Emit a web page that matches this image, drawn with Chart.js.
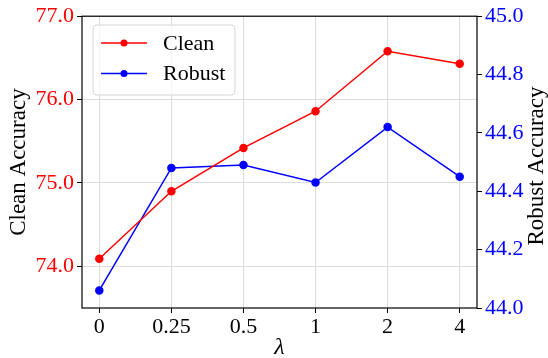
<!DOCTYPE html>
<html lang="en">
<head>
    <meta charset="UTF-8">
    <title>Clean vs Robust Accuracy</title>
    <script src="https://cdn.jsdelivr.net/npm/chart.js"></script>
    <style>
        html, body { margin: 0; padding: 0; background: #ffffff; }
        .wrap { width: 548px; height: 358px; }
    </style>
</head>
<body>
    <div class="wrap">
        <canvas id="acc-chart" width="548" height="358"></canvas>
    </div>
    <script>
        // valores
        const lambdas = ['0', '0.25', '0.5', '1', '2', '4'];
        const cleanAcc = [74.09, 74.90, 75.42, 75.86, 76.58, 76.43];
        const robustAcc = [44.06, 44.48, 44.49, 44.43, 44.62, 44.45];
        const cleanTicks = [74, 75, 76, 77];
        const robustTicks = [44.0, 44.2, 44.4, 44.6, 44.8, 45.0];

        const FONT = "'Liberation Serif', 'DejaVu Serif', serif";

        // borda, legenda e titulo do eixo direito desenhados a mao
        const framePlugin = {
            id: 'frame',
            afterDatasetsDraw(chart) {
                const c = chart.ctx;
                const a = chart.chartArea;
                c.save();
                c.strokeStyle = '#000000';
                c.lineWidth = 1.2;
                c.strokeRect(a.left, a.top, a.right - a.left, a.bottom - a.top);

                // titulo do eixo direito (lido de baixo para cima, como no original)
                c.save();
                c.translate(537, 166);
                c.rotate(-Math.PI / 2);
                c.fillStyle = '#000000';
                c.font = '23px ' + FONT;
                c.textAlign = 'center';
                c.textBaseline = 'middle';
                c.fillText('Robust Accuracy', 0, 0);
                c.restore();

                // legenda
                const x0 = 93, y0 = 25, w = 142, h = 70, r = 4;
                c.beginPath();
                c.moveTo(x0 + r, y0);
                c.arcTo(x0 + w, y0, x0 + w, y0 + h, r);
                c.arcTo(x0 + w, y0 + h, x0, y0 + h, r);
                c.arcTo(x0, y0 + h, x0, y0, r);
                c.arcTo(x0, y0, x0 + w, y0, r);
                c.closePath();
                c.fillStyle = 'rgba(255,255,255,0.8)';
                c.fill();
                c.strokeStyle = '#d6d6d6';
                c.lineWidth = 1;
                c.stroke();

                chart.data.datasets.forEach((ds, i) => {
                    const y = 43 + i * 30.5;
                    c.strokeStyle = ds.borderColor;
                    c.lineWidth = 1.5;
                    c.beginPath();
                    c.moveTo(101, y);
                    c.lineTo(147, y);
                    c.stroke();
                    c.fillStyle = ds.borderColor;
                    c.beginPath();
                    c.arc(124, y, 3.5, 0, Math.PI * 2);
                    c.fill();
                    c.fillStyle = '#000000';
                    c.font = '22px ' + FONT;
                    c.textBaseline = 'middle';
                    c.fillText(ds.label, 163, y + 1);
                });
                c.restore();
            }
        };

        const ctx = document.getElementById('acc-chart').getContext('2d');
        const accChart = new Chart(ctx, {
            type: 'line',
            data: {
                datasets: [{
                    label: 'Clean',
                    data: cleanAcc.map((v, i) => ({ x: i, y: v })),
                    borderColor: '#ff0000',
                    backgroundColor: '#ff0000',
                    borderWidth: 1.5,
                    pointRadius: 3.5,
                    pointHoverRadius: 3.5,
                    yAxisID: 'y'
                }, {
                    label: 'Robust',
                    data: robustAcc.map((v, i) => ({ x: i, y: v })),
                    borderColor: '#0000ff',
                    backgroundColor: '#0000ff',
                    borderWidth: 1.5,
                    pointRadius: 3.5,
                    pointHoverRadius: 3.5,
                    yAxisID: 'y2'
                }]
            },
            options: {
                responsive: false,
                animation: false,
                layout: { padding: { top: 15, right: 0, left: 0, bottom: 0 } },
                plugins: {
                    legend: { display: false },
                    tooltip: { enabled: false }
                },
                scales: {
                    x: {
                        type: 'linear',
                        min: -0.24,
                        max: 5.24,
                        afterBuildTicks: s => { s.ticks = lambdas.map((_, i) => ({ value: i })); },
                        afterFit: s => { s.height = 50; },
                        ticks: {
                            color: '#000000',
                            font: { family: FONT, size: 22 },
                            padding: 1,
                            callback: v => lambdas[v]
                        },
                        grid: { color: '#dcdcdc', tickColor: '#000000', tickLength: 5 },
                        border: { display: false },
                        title: {
                            display: true,
                            text: 'λ',
                            color: '#000000',
                            font: { family: FONT, size: 24, style: 'italic' },
                            padding: { top: 0, bottom: -4 }
                        }
                    },
                    y: {
                        position: 'left',
                        min: 73.5,
                        max: 77.0,
                        afterBuildTicks: s => { s.ticks = cleanTicks.map(v => ({ value: v })); },
                        afterFit: s => { s.width = 82; },
                        ticks: {
                            color: '#ff0000',
                            font: { family: FONT, size: 22 },
                            padding: 3,
                            callback: v => v.toFixed(1)
                        },
                        grid: { color: '#dcdcdc', tickColor: '#000000', tickLength: 5 },
                        border: { display: false },
                        title: {
                            display: true,
                            text: 'Clean Accuracy',
                            color: '#000000',
                            font: { family: FONT, size: 23 },
                            padding: { top: 5, bottom: 0 }
                        }
                    },
                    y2: {
                        position: 'right',
                        min: 44.0,
                        max: 45.0,
                        afterBuildTicks: s => { s.ticks = robustTicks.map(v => ({ value: v })); },
                        afterFit: s => { s.width = 71; },
                        ticks: {
                            color: '#0000ff',
                            font: { family: FONT, size: 22 },
                            padding: 3,
                            callback: v => v.toFixed(1)
                        },
                        grid: { drawOnChartArea: false, tickColor: '#000000', tickLength: 5 },
                        border: { display: false },
                        title: { display: false }
                    }
                }
            },
            plugins: [framePlugin]
        });
    </script>
</body>
</html>
